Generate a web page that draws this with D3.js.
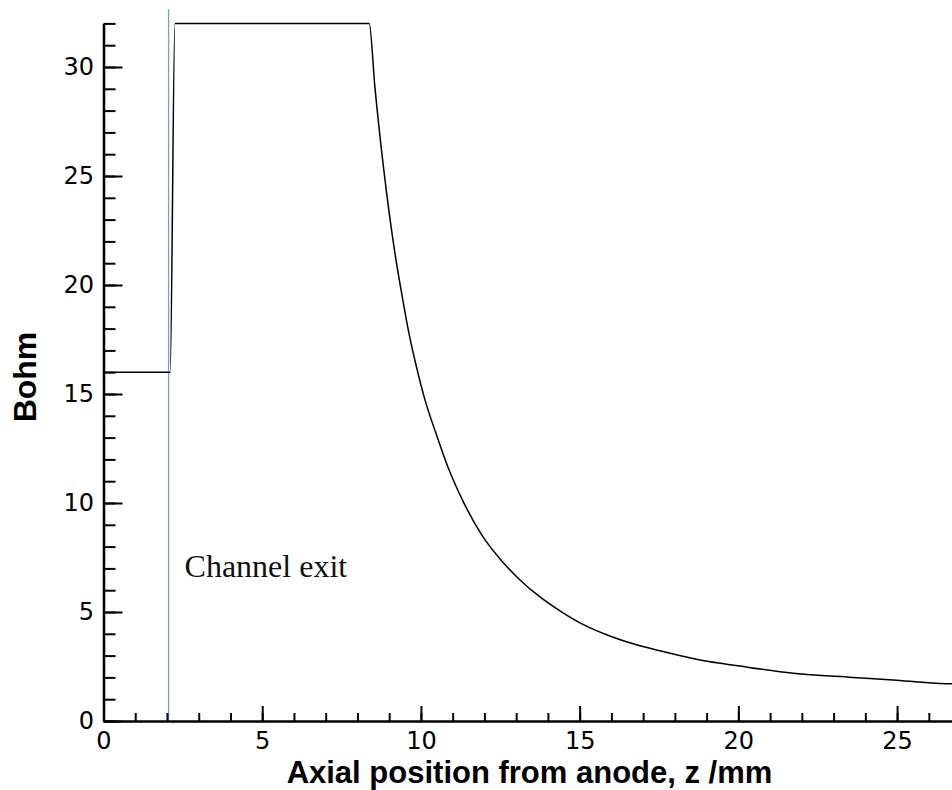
<!DOCTYPE html>
<html>
<head>
<meta charset="utf-8">
<script src="https://cdn.jsdelivr.net/npm/d3@7"></script>
<style>
  body { margin: 0; background: #fff; }
  svg { display: block; }
</style>
</head>
<body>
<svg id="chart"></svg>
<script>
document.addEventListener('DOMContentLoaded', function(){

    const width = 952;
    const height = 790;

    // axial position (mm) and Bohm coefficient
    const zValues = [0, 2.1, 2.25, 8.37, 8.55, 8.83, 9.18, 9.43, 9.62, 9.86, 10.13, 10.47, 10.85,
                     11.26, 11.91, 12.54, 13.12, 13.75, 14.38, 15.01, 15.95, 16.58, 17.53, 18.79,
                     20.05, 21.73, 23.6, 24.87, 26.24, 26.8];
    const bohmValues = [16, 16, 32, 32, 29.08, 25.28, 21.47, 19.31, 17.8, 16.24, 14.72, 13.21, 11.65,
                        10.28, 8.55, 7.35, 6.47, 5.69, 5.05, 4.5, 3.90, 3.59, 3.22, 2.80,
                        2.52, 2.19, 2.0, 1.88, 1.73, 1.70];

    const channelExit = 2.05;
    const exitLineTop = 32.65;
    const exitLabel = "Channel exit";
    const exitLabelAt = 6.6;

    const xMajor = [0, 5, 10, 15, 20, 25];
    const xMinor = d3.range(0, 27, 1);
    const yMajor = [0, 5, 10, 15, 20, 25, 30];
    const yMinor = d3.range(0, 33, 1);

    const data = zValues.map((z, i) => ({z: z, b: bohmValues[i]}));

    const svg = d3.select("#chart")
                  .attr("width", width)
                  .attr("height", height);

    svg.append("rect").attr("width", width).attr("height", height).attr("fill", "#fff");

    const x = d3.scaleLinear().domain([0, 26.73]).range([103.5, 952]);
    const y = d3.scaleLinear().domain([0, 32]).range([721, 23.4]);

    // channel exit marker
    svg.append("line")
       .attr("x1", x(channelExit)).attr("x2", x(channelExit))
       .attr("y1", y(0)).attr("y2", y(exitLineTop))
       .attr("stroke", "#6fa3d6")
       .attr("stroke-width", 1.3);

    svg.append("text")
       .attr("x", x(channelExit) + 16)
       .attr("y", y(exitLabelAt))
       .attr("font-family", "'Liberation Serif', 'Times New Roman', serif")
       .attr("font-size", 32)
       .attr("fill", "#111")
       .text(exitLabel);

    // the profile
    const line = d3.line()
                   .x(d => x(d.z))
                   .y(d => y(d.b))
                   .curve(d3.curveMonotoneX);
    svg.append("path")
       .datum(data)
       .attr("d", line)
       .attr("fill", "none")
       .attr("stroke", "#000")
       .attr("stroke-width", 1.5);

    // AXES
    const tickFont = "'DejaVu Sans', sans-serif";

    function styleAxis(g) {
        g.select(".domain").attr("stroke", "#000").attr("stroke-width", 2.5);
        g.selectAll(".tick line").attr("stroke", "#000").attr("stroke-width", 2);
        g.selectAll(".tick text")
         .attr("font-family", tickFont)
         .attr("font-size", 24)
         .attr("fill", "#000");
    }

    // minor ticks, no labels
    svg.append("g")
       .attr("transform", `translate(0,${y(0)})`)
       .call(d3.axisBottom(x).tickValues(xMinor).tickSize(-8).tickSizeOuter(0))
       .call(g => g.select(".domain").remove())
       .call(g => g.selectAll(".tick text").remove())
       .call(styleAxis);

    svg.append("g")
       .attr("transform", `translate(0,${y(0)})`)
       .call(d3.axisBottom(x).tickValues(xMajor).tickSize(-15).tickSizeOuter(0).tickPadding(11))
       .call(styleAxis);

    svg.append("g")
       .attr("transform", `translate(${x(0)},0)`)
       .call(d3.axisLeft(y).tickValues(yMinor).tickSize(-12).tickSizeOuter(0))
       .call(g => g.select(".domain").remove())
       .call(g => g.selectAll(".tick text").remove())
       .call(styleAxis);

    svg.append("g")
       .attr("transform", `translate(${x(0)},0)`)
       .call(d3.axisLeft(y).tickValues(yMajor).tickSize(-19).tickSizeOuter(0).tickPadding(9.5))
       .call(styleAxis);

    // TITLES
    svg.append("text")
       .attr("x", 529.5)
       .attr("y", 783)
       .attr("text-anchor", "middle")
       .attr("font-family", "'Liberation Sans', Arial, sans-serif")
       .attr("font-weight", "bold")
       .attr("font-size", 31)
       .text("Axial position from anode, z /mm");

    svg.append("text")
       .attr("transform", "translate(36,377) rotate(-90)")
       .attr("text-anchor", "middle")
       .attr("font-family", "'Liberation Sans', Arial, sans-serif")
       .attr("font-weight", "bold")
       .attr("font-size", 32)
       .text("Bohm");
});
</script>
</body>
</html>
